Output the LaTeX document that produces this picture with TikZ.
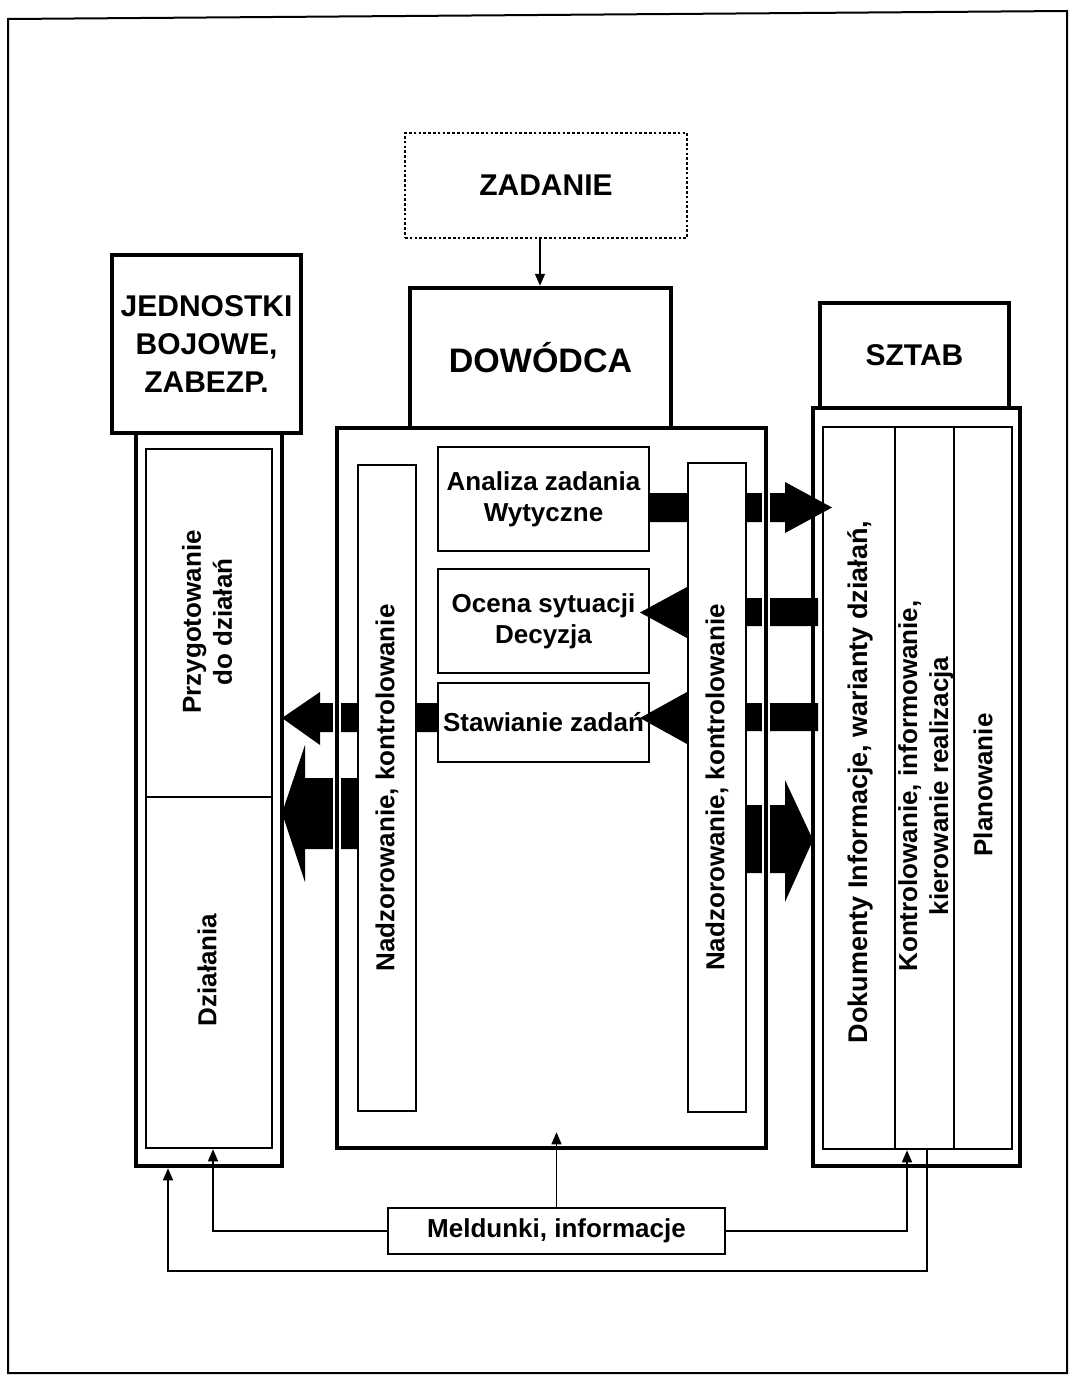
\documentclass[tikz,border=0pt]{standalone}
\usepackage{fontspec}
\setmainfont{Liberation Sans}
\usetikzlibrary{arrows.meta,calc}

\begin{document}
\begin{tikzpicture}[x=1pt,y=-1pt,
  hbox/.style={draw, line width=4.5pt, inner sep=0pt},
  mbox/.style={draw, line width=2.5pt, inner sep=0pt},
  lbox/.style={draw, line width=1.4pt, inner sep=0pt, fill=white},
  dotbox/.style={draw, line width=2.6pt, dash pattern=on 2.6pt off 2.2pt, inner sep=0pt},
  bigtxt/.style={font=\bfseries\fontsize{30}{38}\selectfont, align=center},
  dowtxt/.style={font=\bfseries\fontsize{34}{40}\selectfont, align=center},
  smalltxt/.style={font=\bfseries\fontsize{26}{31}\selectfont, align=center, inner sep=0pt},
  fbline/.style={line width=1.4pt, -{Triangle[length=12pt,width=10pt]}},
  blockarrow/.style={fill=black},
  divider/.style={line width=2.2pt},
]
\useasboundingbox (0,0) rectangle (1072,1376);

% page frame
\draw[line width=2pt] (8,19) -- (1067,11) -- (1067,1373) -- (8,1373) -- cycle;

% task box
\node[dotbox, minimum width=282pt, minimum height=105pt, bigtxt] (zad) at (546,185.5) {ZADANIE};

% commander's steps
\node[lbox, minimum width=211pt, minimum height=104pt, smalltxt] (ana) at (543.5,499) {Analiza zadania\\Wytyczne};
\node[lbox, minimum width=211pt, minimum height=104pt, smalltxt] (oce) at (543.5,621) {Ocena sytuacji\\Decyzja};
\node[lbox, minimum width=211pt, minimum height=79pt, smalltxt] (sta) at (543.5,722.5) {Stawianie zadań};

% block arrows
\fill[blockarrow] (649,493) -- (785,493) -- (785,482) -- (832,507.5) -- (785,533) -- (785,522) -- (649,522) -- cycle;
\fill[blockarrow] (818,598) -- (687,598) -- (687,587) -- (640,612.5) -- (687,638) -- (687,626) -- (818,626) -- cycle;
\fill[blockarrow] (818,703) -- (687,703) -- (687,692) -- (640,718) -- (687,744) -- (687,731) -- (818,731) -- cycle;
\fill[blockarrow] (438,703) -- (320,703) -- (320,692) -- (282,718) -- (320,745) -- (320,732) -- (438,732) -- cycle;
\fill[blockarrow] (360,778) -- (305,778) -- (305,745) -- (282,813) -- (305,882) -- (305,849) -- (360,849) -- cycle;
\fill[blockarrow] (744,805) -- (785,805) -- (785,780) -- (813,840) -- (785,902) -- (785,873) -- (744,873) -- cycle;

% supervision bars
\node[lbox, minimum width=58pt, minimum height=646pt] (nl) at (387,788) {};
\node[lbox, minimum width=58pt, minimum height=649pt] (nr) at (717,787.5) {};
\node[smalltxt, rotate=90] (nlt) at (nl.center) {Nadzorowanie, kontrolowanie};
\node[smalltxt, rotate=90] (nrt) at (nr.center) {Nadzorowanie, kontrolowanie};

% commander
\node[hbox, preaction={draw=white, line width=7.5pt}, minimum width=429pt, minimum height=720pt] (cen) at (551.5,788) {};
\node[hbox, minimum width=261pt, minimum height=140pt, dowtxt] (dow) at (540.5,358) {DOWÓDCA};

% combat units
\node[hbox, minimum width=189pt, minimum height=178pt, bigtxt] (jed) at (206.5,344) {JEDNOSTKI\\BOJOWE,\\ZABEZP.};
\node[hbox, minimum width=146pt, minimum height=733pt] (jout) at (209,799.5) {};
\node[mbox, minimum width=126pt, minimum height=699pt] (jin) at (209,798.5) {};
\coordinate (jdiv) at (0,797);
\draw[divider] (jin.west |- jdiv) -- (jin.east |- jdiv);
\node[smalltxt, rotate=90] (prz) at (207,622) {Przygotowanie\\do działań};
\node[smalltxt, rotate=90] (dzi) at (207,970) {Działania};

% staff
\node[hbox, minimum width=189pt, minimum height=105pt, bigtxt] (szt) at (914.5,355.5) {SZTAB};
\node[hbox, minimum width=207pt, minimum height=758pt] (sout) at (916.5,787) {};
\node[mbox, minimum width=189pt, minimum height=722pt] (sin) at (917.5,788) {};
\coordinate (sd1) at (895,0);
\coordinate (sd2) at (954,0);
\draw[divider] (sin.north -| sd1) -- (sin.south -| sd1);
\draw[divider] (sin.north -| sd2) -- (sin.south -| sd2);
\node[smalltxt, rotate=90, font=\bfseries\fontsize{27}{31}\selectfont] (dok) at (860,782) {Dokumenty Informacje, warianty działań,};
\node[smalltxt, rotate=90] (kon) at (926,786) {Kontrolowanie, informowanie,\\kierowanie realizacja};
\node[smalltxt, rotate=90] (pla) at (983,785) {Planowanie};

% reports
\node[lbox, minimum width=337pt, minimum height=46pt, smalltxt] (mel) at (556.5,1231) {Meldunki, informacje};

% connectors
\draw[fbline] (zad.south -| 540,0) -- (dow.north -| 540,0);
\draw[fbline] (mel.north) -- ($(mel.north |- cen.south)+(0,-18)$);
\coordinate (lx) at (213,0);
\draw[fbline] (mel.west) -| (jin.south -| lx);
\coordinate (rx) at (907,0);
\draw[fbline] (mel.east) -| (sin.south -| rx);
\coordinate (bot) at (168,1271);
\coordinate (bx) at (927,0);
\draw[fbline] (sin.south -| bx) |- (bot) -- (jout.south -| bot);
\end{tikzpicture}
\end{document}
